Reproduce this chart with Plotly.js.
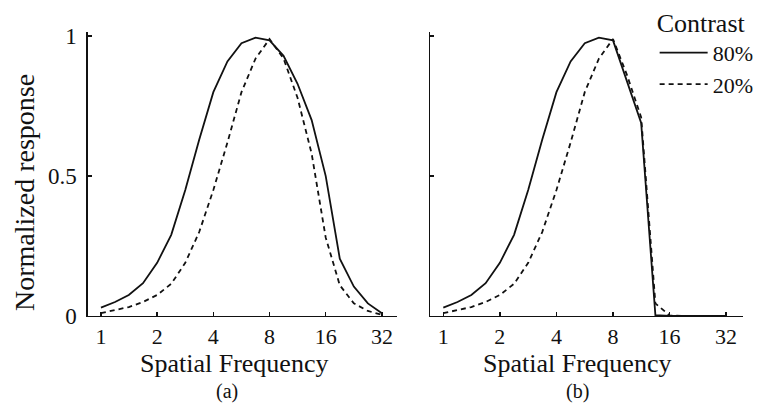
<!DOCTYPE html>
<html>
<head>
<meta charset="utf-8">
<script src="https://cdn.plot.ly/plotly-3.0.1.min.js"></script>
<style>
  body { margin: 0; background: #fff; }
  #chart { width: 784px; height: 405px; }
</style>
</head>
<body>
<div id="chart"></div>
<script>
// spatial frequency samples (quarter-octave steps)
const freq = [1, 1.19, 1.41, 1.68, 2, 2.38, 2.83, 3.36, 4, 4.76, 5.66, 6.73, 8,
  9.51, 11.3, 13.45, 16, 19.03, 22.63, 26.91, 32];

// (a) normalized responses
const a80 = [0.03, 0.05, 0.075, 0.117, 0.19, 0.29, 0.45, 0.63, 0.80, 0.91, 0.975, 0.995, 0.985,
  0.93, 0.83, 0.70, 0.50, 0.205, 0.105, 0.045, 0.01];
const a20 = [0.01, 0.02, 0.032, 0.05, 0.075, 0.115, 0.19, 0.30, 0.45, 0.62, 0.80, 0.92, 0.99,
  0.92, 0.78, 0.58, 0.28, 0.11, 0.045, 0.018, 0.004];

// (b) normalized responses
const b80 = [0.03, 0.05, 0.075, 0.117, 0.19, 0.29, 0.45, 0.63, 0.80, 0.91, 0.975, 0.995, 0.985,
  0.84, 0.69, 0.003, 0, 0, 0, 0, 0];
const b20 = [0.01, 0.02, 0.032, 0.05, 0.075, 0.115, 0.19, 0.30, 0.45, 0.62, 0.80, 0.92, 0.99,
  0.86, 0.71, 0.045, 0.002, 0, 0, 0, 0];

const xTicks = [1, 2, 4, 8, 16, 32];
const yTicks = [0, 0.5, 1];
const yTickText = ['0', '0.5', '1'];
const seriesNames = ['80%', '20%'];

const FONT = 'Liberation Serif, Times New Roman, serif';
const solid = {color: '#111', width: 1.8};
const dashed = {color: '#111', width: 1.8, dash: '5px,4px'};

const data = [
  {x: freq, y: a80, mode: 'lines', name: seriesNames[0], line: solid, xaxis: 'x', yaxis: 'y'},
  {x: freq, y: a20, mode: 'lines', name: seriesNames[1], line: dashed, xaxis: 'x', yaxis: 'y'},
  {x: freq, y: b80, mode: 'lines', name: seriesNames[0], line: solid, xaxis: 'x2', yaxis: 'y2', showlegend: false},
  {x: freq, y: b20, mode: 'lines', name: seriesNames[1], line: dashed, xaxis: 'x2', yaxis: 'y2', showlegend: false}
];

const xBase = {
  type: 'log',
  tickvals: xTicks,
  ticktext: xTicks.map(String),
  ticks: 'inside',
  ticklen: 4,
  tickwidth: 1.5,
  tickcolor: '#111',
  showline: true,
  linecolor: '#111',
  linewidth: 1.5,
  showgrid: false,
  zeroline: false,
  tickfont: {family: FONT, size: 22, color: '#111'},
  ticklabelstandoff: 0
};
const yBase = {
  range: [0, 1.015],
  tickvals: yTicks,
  ticktext: yTickText,
  ticks: 'inside',
  ticklen: 4,
  tickwidth: 1.5,
  tickcolor: '#111',
  showline: true,
  linecolor: '#111',
  linewidth: 1.5,
  showgrid: false,
  zeroline: false,
  tickfont: {family: FONT, size: 23, color: '#111'},
  ticklabelstandoff: 5
};

const ann = (text, px, py, size, angle) => ({
  text: text, x: px / 784, y: 1 - py / 405, xref: 'paper', yref: 'paper',
  xanchor: 'center', yanchor: 'middle', textangle: angle || 0,
  showarrow: false, font: {family: FONT, size: size, color: '#111'}
});

const layout = {
  width: 784,
  height: 405,
  margin: {l: 0, r: 0, t: 0, b: 0, autoexpand: false},
  paper_bgcolor: '#fff',
  plot_bgcolor: '#fff',
  font: {family: FONT, color: '#111'},
  xaxis: Object.assign({}, xBase, {domain: [0.1122, 0.5064], range: [-0.0695, 1.586], anchor: 'y'}),
  yaxis: Object.assign({}, yBase, {domain: [0.2198, 0.921], anchor: 'x'}),
  xaxis2: Object.assign({}, xBase, {domain: [0.5485, 0.9477], range: [-0.0707, 1.595], anchor: 'y2'}),
  yaxis2: Object.assign({}, yBase, {domain: [0.2198, 0.921], anchor: 'x2', showticklabels: false}),
  showlegend: true,
  legend: {
    x: 0.835, y: 1.005, xanchor: 'left', yanchor: 'top',
    bgcolor: 'rgba(0,0,0,0)',
    borderwidth: 0,
    itemwidth: 48,
    font: {family: FONT, size: 22, color: '#111'},
    title: {text: 'Contrast', font: {family: FONT, size: 26, color: '#111'}},
    tracegroupgap: 0
  },
  annotations: [
    ann('Normalized response', 24, 193, 28, -90),
    ann('Spatial Frequency', 234, 363, 26),
    ann('Spatial Frequency', 577, 363, 26),
    ann('(a)', 227, 391, 20),
    ann('(b)', 577, 391, 20)
  ]
};

Plotly.newPlot('chart', data, layout, {displayModeBar: false, staticPlot: true});
</script>
</body>
</html>
